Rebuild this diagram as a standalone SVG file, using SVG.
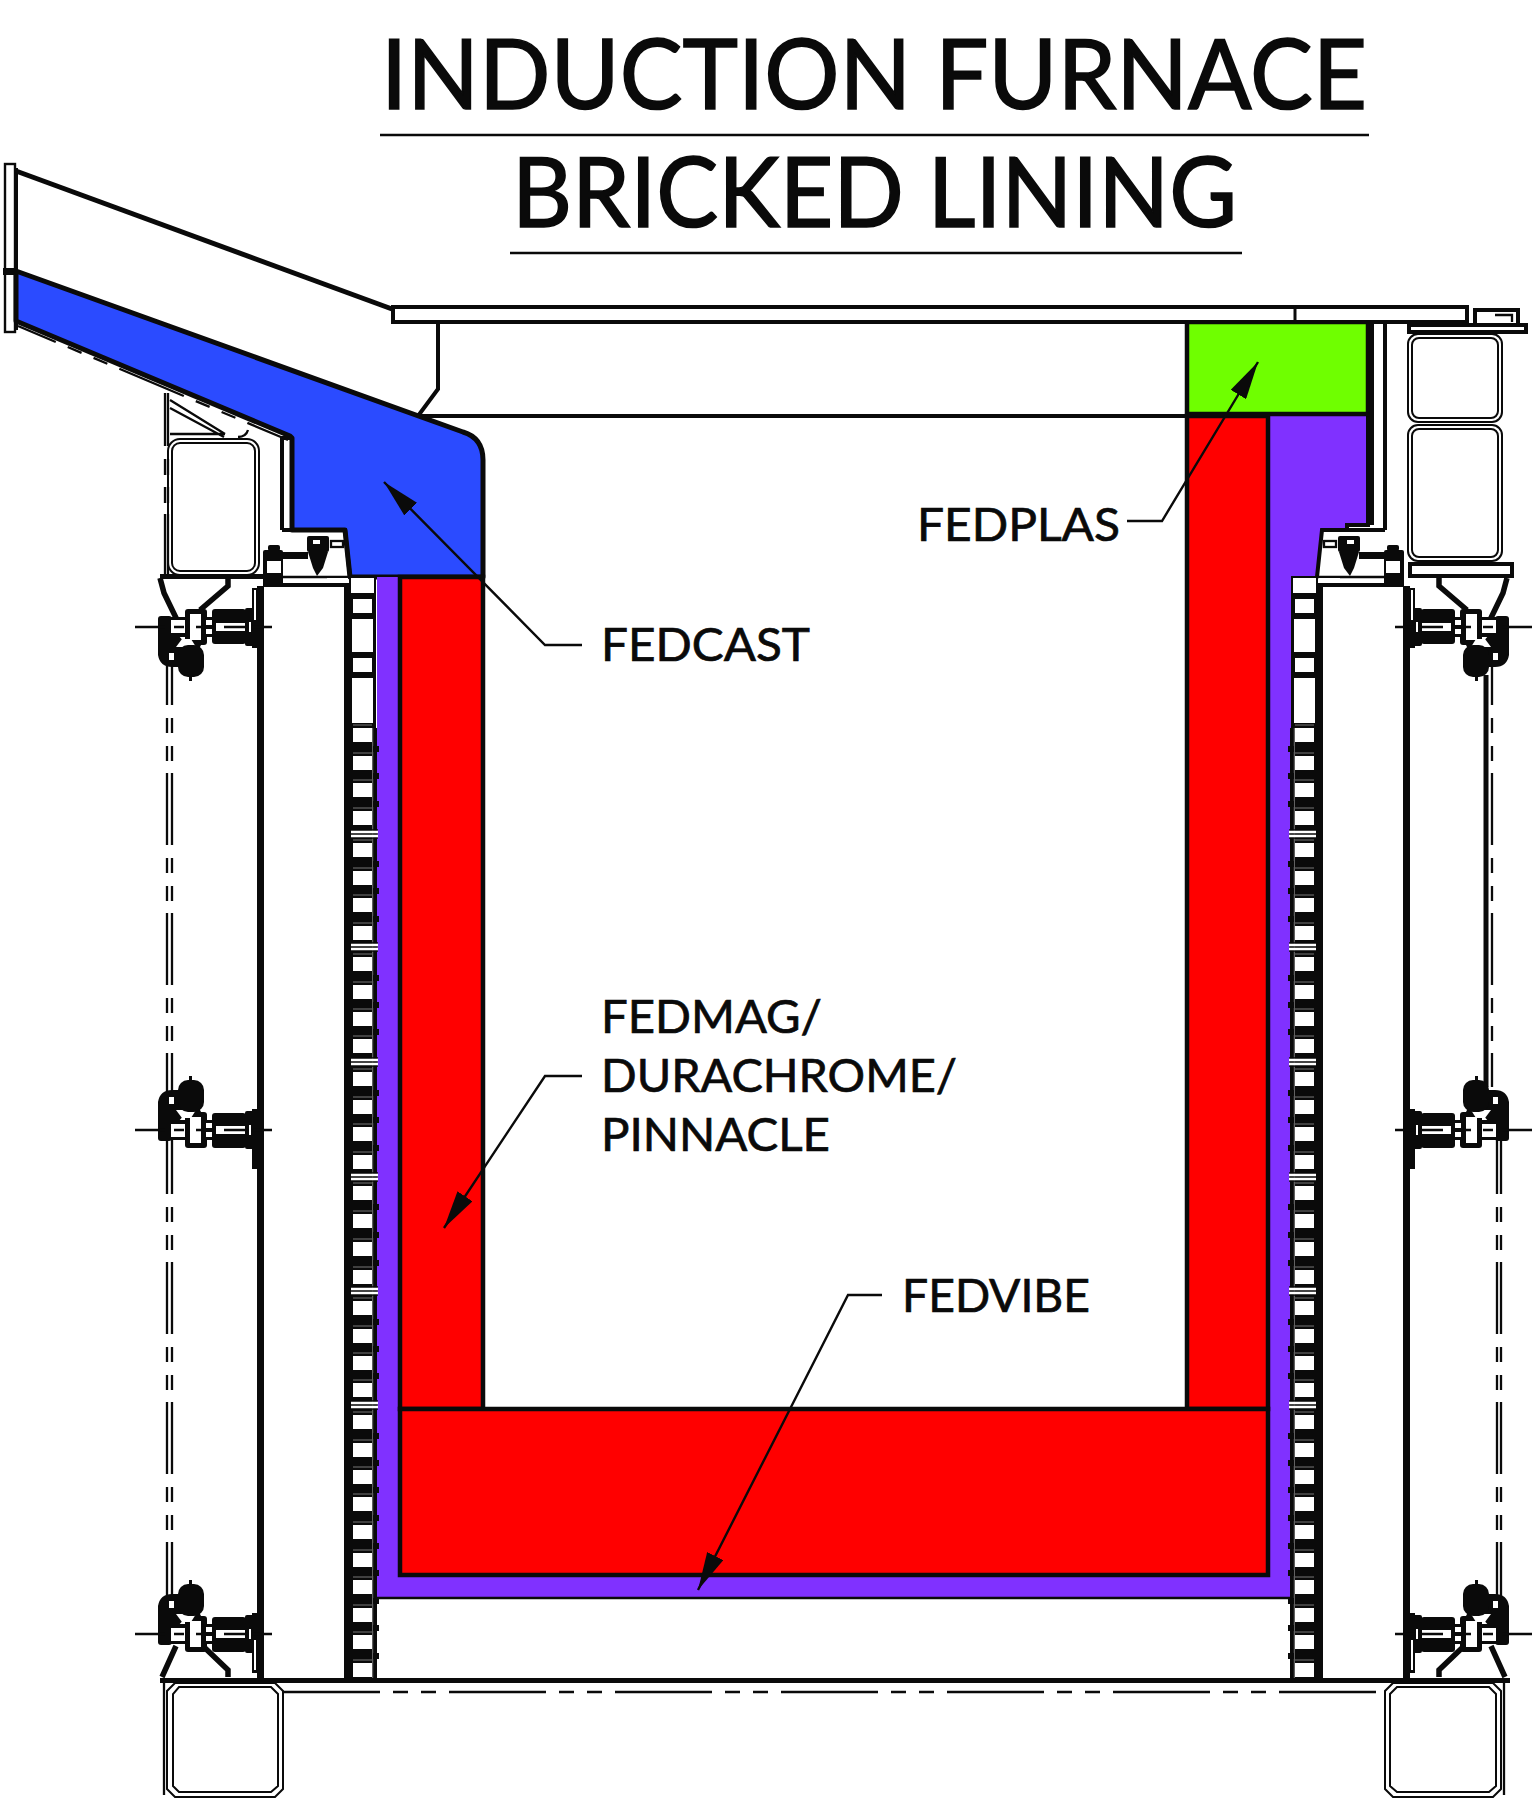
<svg xmlns="http://www.w3.org/2000/svg" xmlns:xlink="http://www.w3.org/1999/xlink" width="1536" height="1800" viewBox="0 0 1536 1800">
<style>
.t{font-family:Lato,"Open Sans","Liberation Sans",sans-serif;fill:#0a0a0a;stroke:#0a0a0a}
.title{font-size:97px;stroke-width:1.6px}
.lab{font-size:47px;stroke-width:.7px}
.k{fill:#0a0a0a}
.w{fill:#fff}
.o{fill:#fff;stroke:#0a0a0a;stroke-width:4}
.o2{fill:none;stroke:#0a0a0a;stroke-width:2}
.l{fill:none;stroke:#0a0a0a;stroke-width:4}
.thin{fill:none;stroke:#0a0a0a;stroke-width:2.3}
.dash{stroke-dasharray:72 13 15 13 15 12}
.lead{fill:none;stroke:#0a0a0a;stroke-width:2.4;marker-end:url(#ah)}
.red{fill:#ff0000;stroke:#0a0a0a;stroke-width:4.5}
</style>
<defs>
<marker id="ah" markerUnits="userSpaceOnUse" viewBox="0 0 38 18" refX="38" refY="9" markerWidth="38" markerHeight="18" orient="auto"><path d="M0,0L38,9L0,18Z" fill="#0a0a0a"/></marker>
<g id="clamp">
<rect class="k" x="-102" y="-11" width="14" height="22" rx="3"/>
<rect class="k" x="-92" y="-10" width="20" height="20"/>
<rect class="w" x="-89" y="-6" width="14" height="13"/>
<rect class="k" x="-75" y="-18" width="22" height="36" rx="3"/>
<rect class="w" x="-70" y="-13" width="11" height="26"/>
<rect class="k" x="-55" y="-10" width="8" height="20"/>
<rect class="w" x="-54" y="-7" width="6" height="5"/>
<rect class="w" x="-54" y="2" width="6" height="5"/>
<rect class="k" x="-48" y="-17" width="34" height="35" rx="3"/>
<rect class="w" x="-44" y="-4" width="30" height="8"/>
<rect class="k" x="-15" y="-19" width="11" height="38" rx="2"/>
<rect class="w" x="-11" y="-5" width="2" height="10"/>
<rect class="k" x="-8" y="-21" width="8" height="60"/>
<path class="k" d="M-102,-8V-28Q-100,-40 -88,-40H-60V-20L-58,-16H-75L-82,-8H-93Z"/>
<rect class="w" x="-91" y="-33" width="5" height="7"/>
<path class="w" d="M-84,-20H-64L-69,-12H-78Z"/>
<rect class="k" x="-82" y="-50" width="26" height="32" rx="10"/>
<rect class="k" x="-71" y="-54" width="3" height="5"/>
<path d="M-125,0H-95M-86,0H-76M-64,0H-56M-36,0H-12M-8,0H12" fill="none" stroke="#0a0a0a" stroke-width="2.5"/>
</g>
<g id="coil">
<rect class="k" x="344" y="584" width="32" height="1096"/>
<rect class="k" x="376" y="728" width="1" height="952"/>
<rect class="o2" x="350" y="577" width="25" height="17" style="fill:#fff"/>
<path d="M372.7,728V1680" stroke="#777" stroke-width="1" fill="none"/>
<path d="M353,725h19M353,753h19M353,780h19M353,808h19M353,840h19M353,868h19M353,895h19M353,923h19M353,954h19M353,982h19M353,1009h19M353,1036h19M353,1069h19M353,1097h19M353,1124h19M353,1152h19M353,1183h19M353,1211h19M353,1239h19M353,1267h19M353,1298h19M353,1326h19M353,1353h19M353,1380h19M353,1412h19M353,1440h19M353,1467h19M353,1494h19M353,1522h19M353,1550h19M353,1577h19M353,1605h19M353,1632h19M353,1660h19" stroke="#777" stroke-width="1" fill="none"/>
<path d="M373,749h6M373,776h6M373,804h6M373,864h6M373,891h6M373,919h6M373,978h6M373,1005h6M373,1032h6M373,1093h6M373,1120h6M373,1148h6M373,1207h6M373,1235h6M373,1263h6M373,1322h6M373,1349h6M373,1376h6M373,1436h6M373,1463h6M373,1490h6M373,1518h6M373,1546h6M373,1573h6M373,1601h6M373,1628h6M373,1656h6" stroke="#0a0a0a" stroke-width="6" fill="none"/>
<g class="w">
<rect x="353" y="599" width="19" height="14"/><rect x="352" y="619" width="21" height="33"/><rect x="353" y="658" width="19" height="14"/><rect x="352" y="678" width="21" height="45"/>
<rect x="353" y="728" width="19" height="14"/><rect x="353" y="756" width="19" height="14"/><rect x="353" y="783" width="19" height="14"/><rect x="353" y="811" width="19" height="14"/>
<rect x="353" y="843" width="19" height="14"/><rect x="353" y="871" width="19" height="14"/><rect x="353" y="898" width="19" height="14"/><rect x="353" y="926" width="19" height="14"/>
<rect x="353" y="957" width="19" height="14"/><rect x="353" y="985" width="19" height="14"/><rect x="353" y="1012" width="19" height="14"/><rect x="353" y="1039" width="19" height="14"/>
<rect x="353" y="1072" width="19" height="14"/><rect x="353" y="1100" width="19" height="14"/><rect x="353" y="1127" width="19" height="14"/><rect x="353" y="1155" width="19" height="14"/>
<rect x="353" y="1186" width="19" height="14"/><rect x="353" y="1214" width="19" height="14"/><rect x="353" y="1242" width="19" height="14"/><rect x="353" y="1270" width="19" height="14"/>
<rect x="353" y="1301" width="19" height="14"/><rect x="353" y="1329" width="19" height="14"/><rect x="353" y="1356" width="19" height="14"/><rect x="353" y="1383" width="19" height="14"/>
<rect x="353" y="1415" width="19" height="14"/><rect x="353" y="1443" width="19" height="14"/><rect x="353" y="1470" width="19" height="14"/><rect x="353" y="1497" width="19" height="14"/>
<rect x="353" y="1525" width="19" height="14"/><rect x="353" y="1553" width="19" height="14"/><rect x="353" y="1580" width="19" height="14"/><rect x="353" y="1608" width="19" height="14"/><rect x="353" y="1635" width="19" height="14"/><rect x="353" y="1663" width="19" height="14"/>
</g>
<path d="M351,830h27M351,834h27M351,838h27M351,943h27M351,947h27M351,951h27M351,1058h27M351,1062h27M351,1066h27M351,1173h27M351,1177h27M351,1181h27M351,1287h27M351,1291h27M351,1295h27M351,1401h27M351,1405h27M351,1409h27" stroke="#0a0a0a" stroke-width="1.6" fill="none"/>
<path d="M351,832h27M351,836h27M351,945h27M351,949h27M351,1060h27M351,1064h27M351,1175h27M351,1179h27M351,1289h27M351,1293h27M351,1403h27M351,1407h27" stroke="#fff" stroke-width="2.4" fill="none"/>
</g>
<g id="assembly">
<path class="l" d="M282,530H345L350,577"/>
<path d="M283,577H350" class="thin"/>
<path class="l" d="M263,585H350"/>
<rect class="w" x="327" y="578" width="21" height="5"/>
<rect class="k" x="307" y="536" width="22" height="16" rx="2"/>
<rect class="w" x="313" y="540" width="7" height="4"/>
<path class="k" d="M308,552H328L323,568L317,576L313,568Z"/>
<rect class="thin" x="331" y="541" width="12" height="6"/>
<rect class="k" x="283" y="552" width="25" height="7"/>
<rect class="k" x="263" y="550" width="20" height="36" rx="2"/>
<rect class="k" x="268" y="545" width="12" height="6" rx="2"/>
<rect class="w" x="267" y="561" width="14" height="12"/>
</g>
</defs>
<rect width="1536" height="1800" fill="#fff"/>
<g id="title">
<text class="t title" x="381" y="109" textLength="986" lengthAdjust="spacingAndGlyphs">INDUCTION FURNACE</text>
<path d="M380,135H1369M510,253H1242" fill="none" stroke="#0a0a0a" stroke-width="2.6"/>
<text class="t title" x="512" y="227" textLength="725" lengthAdjust="spacingAndGlyphs">BRICKED LINING</text>
</g>
<g id="frame-dashes">
<path class="thin dash" d="M167,633V1118M172,633V1118M167,1122V1620M172,1122V1620"/>
<path class="thin dash" d="M1492,633V1087"/>
<path class="thin dash" d="M1497,1122V1620M1501,1122V1620"/>
<path class="l" style="stroke-width:5" d="M1486,675V1087"/>
<path class="thin" d="M165,393V446M168,393V446M165,459V475M168,459V475M165,487V503M168,487V503M165,514V575M168,514V575"/>
<path class="thin" style="stroke-dasharray:70 13 15 13 15 13;stroke-dashoffset:29" d="M18,326L288,440"/>
<path class="thin" d="M170,400L225,434M170,408L224,437M170,434H225M238,437Q246,437 248,430"/>
<rect class="o2" x="168" y="439" width="91" height="136" rx="12"/>
<rect class="o2" x="172" y="443" width="83" height="128" rx="8"/>
</g>
<g id="chute">
<rect x="5" y="164" width="10" height="168" class="o" style="stroke-width:2.4"/>
<path class="l" d="M16,168V330"/>
<path class="l" style="stroke-width:5" d="M16,171L392,309"/>
<path id="fedcast" d="M16,271L463,432Q483,438 483,460V577H350L345,530H292V438L290,436L16,321Z" fill="#2b4bff" stroke="#0a0a0a" stroke-width="5" stroke-linejoin="round"/>
<path class="k" d="M3,268H16V275H3Z"/>
<path class="l" d="M282,530V438L290,438"/>
</g>
<g id="purple-lining">
<path d="M377,577H400V1575H1268V416H1368V525H1347V530H1322L1318,577H1292V1597H377Z" fill="#8031ff"/>
<path class="thin" d="M377,1598H1292"/>
<path d="M1368,416V525H1347V530" class="l"/>
</g>
<g id="red-walls">
<rect class="red" x="400" y="577" width="83" height="832"/>
<rect class="red" x="1187" y="416" width="81" height="993"/>
<rect class="red" x="400" y="1409" width="868" height="166"/>
</g>
<g id="green-top"><rect x="1187" y="322" width="181" height="92" fill="#6fff00" stroke="#0a0a0a" stroke-width="4.5"/></g>
<g id="top-plate">
<path class="l" d="M438,320V389L418,416"/>
<path d="M418,416H1187" class="l"/>
<rect class="o" x="393" y="307" width="1074" height="15"/>
<path d="M1295,307V322" class="l" style="stroke-width:3"/>
<path class="l" d="M1385,322V530M1372,322V525"/>
<path d="M1475,323V310H1518V323" class="o"/>
<path d="M1495,315H1512V322" class="thin"/>
<rect class="o" x="1409" y="325" width="117" height="7"/>
</g>
<g id="right-tubes">
<rect class="o2" x="1408" y="334" width="94" height="88" rx="10"/>
<rect class="o2" x="1412" y="338" width="86" height="80" rx="7"/>
<rect class="o2" x="1408" y="425" width="94" height="136" rx="10"/>
<rect class="o2" x="1412" y="429" width="86" height="128" rx="7"/>
<rect class="o" x="1410" y="564" width="102" height="12"/>
</g>
<g id="coils">
<use xlink:href="#coil" href="#coil"/>
<use xlink:href="#coil" href="#coil" transform="matrix(-1 0 0 1 1667 0)"/>
</g>
<g id="steel-frame">
<rect class="k" x="257" y="586" width="7" height="1094"/>
<rect class="k" x="1403" y="586" width="7" height="1094"/>
<rect class="k" x="160" y="1678" width="1350" height="5"/>
<rect class="k" x="160" y="574" width="123" height="5"/>
<rect class="k" x="1385" y="574" width="5" height="5"/>
</g>
<g id="assemblies">
<use xlink:href="#assembly" href="#assembly"/>
<use xlink:href="#assembly" href="#assembly" transform="matrix(-1 0 0 1 1667 0)"/>
</g>
<g id="funnels">
<path class="l" style="stroke-width:5.5" d="M160,578L164,593L178,622M228,578V586L200,610"/>
<path class="l" style="stroke-width:5.5" d="M162,1677L176,1646M205,1648L228,1670V1677"/>
<path class="l" style="stroke-width:5.5" d="M1507,578L1503,593L1489,622M1439,578V586L1467,610"/>
<path class="l" style="stroke-width:5.5" d="M1505,1677L1491,1646M1462,1648L1439,1670V1677"/>
</g>
<g id="clamps-left">
<use xlink:href="#clamp" href="#clamp" transform="translate(260,627) scale(1,-1)"/>
<use xlink:href="#clamp" href="#clamp" transform="translate(260,1130)"/>
<use xlink:href="#clamp" href="#clamp" transform="translate(260,1634)"/>
<rect class="w" x="254" y="1640" width="2" height="30"/>
<rect class="w" x="254" y="590" width="2" height="30"/>
</g>
<g id="clamps-right" transform="matrix(-1 0 0 1 1667 0)">
<use xlink:href="#clamp" href="#clamp" transform="translate(260,627) scale(1,-1)"/>
<use xlink:href="#clamp" href="#clamp" transform="translate(260,1130)"/>
<use xlink:href="#clamp" href="#clamp" transform="translate(260,1634)"/>
<rect class="w" x="254" y="1640" width="2" height="30"/>
<rect class="w" x="254" y="590" width="2" height="30"/>
</g>
<g id="base-tubes">
<path class="o2" d="M175,1683H275L283,1691V1789L275,1797H175L167,1789V1691Z"/>
<path class="o2" d="M179,1687H271L278,1694V1786L271,1792H179L173,1786V1694Z"/>
<path class="thin" d="M164,1682V1795"/>
<path class="o2" d="M1393,1683H1493L1501,1691V1789L1493,1797H1393L1385,1789V1691Z"/>
<path class="o2" d="M1397,1687H1489L1496,1694V1786L1489,1792H1397L1390,1786V1694Z"/>
<path class="thin" d="M1504,1682V1795"/>
<path class="thin" style="stroke-dasharray:97 13 15 13 15 13" d="M283,1692H1385"/>
</g>
<g id="connectors">
<path class="lead" d="M582,645H545L384,482"/>
<path class="lead" d="M1127,521H1162L1258,362"/>
<path class="lead" d="M582,1076H545L444,1228"/>
<path class="lead" d="M882,1295H848L698,1590"/>
</g>
<g id="labels">
<text class="t lab" x="601" y="661" textLength="209" lengthAdjust="spacingAndGlyphs">FEDCAST</text>
<text class="t lab" x="917" y="541" textLength="203" lengthAdjust="spacingAndGlyphs">FEDPLAS</text>
<text class="t lab" x="601" y="1033" textLength="221" lengthAdjust="spacingAndGlyphs">FEDMAG/</text>
<text class="t lab" x="601" y="1092" textLength="356" lengthAdjust="spacingAndGlyphs">DURACHROME/</text>
<text class="t lab" x="601" y="1151" textLength="229" lengthAdjust="spacingAndGlyphs">PINNACLE</text>
<text class="t lab" x="902" y="1312" textLength="188" lengthAdjust="spacingAndGlyphs">FEDVIBE</text>
</g>
</svg>
